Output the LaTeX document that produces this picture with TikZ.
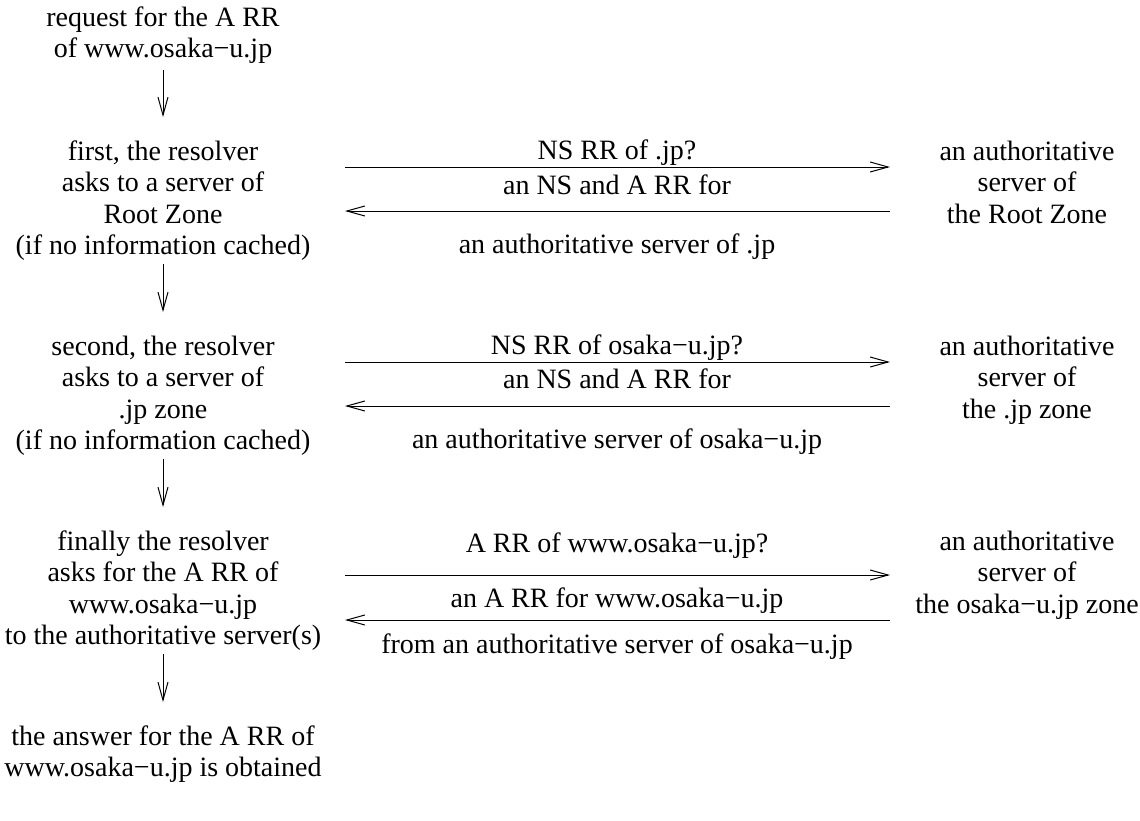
\documentclass[tikz,border=0pt]{standalone}
\usepackage{fontspec}
\setmainfont{Liberation Serif}
\usetikzlibrary{arrows.meta}
\newcommand\lst{\rule[-8pt]{0pt}{28pt}}
\begin{document}
\begin{tikzpicture}[x=1pt,y=-1pt,
  txt/.style={font=\fontsize{28}{31.5}\selectfont, inner sep=0pt, align=center},
  blk/.style={txt, anchor=north},
  lbl/.style={txt, anchor=base},
  arr/.style={line width=1pt, -{Straight Barb[length=18pt,width=10pt]}}]
\useasboundingbox (0,0) rectangle (1140,820);

% left column
\node[blk] (req) at (163,6) {\lst request for the A RR\\ \lst of www.osaka−u.jp};
\node[blk] (s1) at (163,140) {\lst first, the resolver\\ \lst asks to a server of\\ \lst Root Zone\\ \lst (if no information cached)};
\node[blk] (s2) at (163,335) {\lst second, the resolver\\ \lst asks to a server of\\ \lst .jp zone\\ \lst (if no information cached)};
\node[blk] (s3) at (163,530) {\lst finally the resolver\\ \lst asks for the A RR of\\ \lst www.osaka−u.jp\\ \lst to the authoritative server(s)};
\node[blk] (ans) at (163,725) {\lst the answer for the A RR of\\ \lst www.osaka−u.jp is obtained};

% right column
\node[blk] (r1) at (1027,140) {\lst an authoritative\\ \lst server of\\ \lst the Root Zone};
\node[blk] (r2) at (1027,335) {\lst an authoritative\\ \lst server of\\ \lst the .jp zone};
\node[blk] (r3) at (1027,530) {\lst an authoritative\\ \lst server of\\ \lst the osaka−u.jp zone};

% middle labels
\node[lbl] (q1) at (617,159) {NS RR of .jp?};
\node[lbl] (a1) at (617,194) {an NS and A RR for};
\node[lbl] (b1) at (617,253) {an authoritative server of .jp};
\node[lbl] (q2) at (617,354) {NS RR of osaka−u.jp?};
\node[lbl] (a2) at (617,388) {an NS and A RR for};
\node[lbl] (b2) at (617,448) {an authoritative server of osaka−u.jp};
\node[lbl] (q3) at (617,552) {A RR of www.osaka−u.jp?};
\node[lbl] (a3) at (617,607) {an A RR for www.osaka−u.jp};
\node[lbl] (b3) at (617,653) {from an authoritative server of osaka−u.jp};

% connector end points
\coordinate (v0a) at (163,70);  \coordinate (v0b) at (163,117);
\coordinate (v1a) at (163,264); \coordinate (v1b) at (163,312);
\coordinate (v2a) at (163,459); \coordinate (v2b) at (163,507);
\coordinate (v3a) at (163,654); \coordinate (v3b) at (163,702);

\coordinate (h1l) at (345,167); \coordinate (h1r) at (890,167);
\coordinate (k1l) at (345,211); \coordinate (k1r) at (890,211);
\coordinate (h2l) at (345,362); \coordinate (h2r) at (890,362);
\coordinate (k2l) at (345,406); \coordinate (k2r) at (890,406);
\coordinate (h3l) at (345,575); \coordinate (h3r) at (890,575);
\coordinate (k3l) at (345,620); \coordinate (k3r) at (890,620);

\draw[arr] (v0a) -- (v0b);
\draw[arr] (v1a) -- (v1b);
\draw[arr] (v2a) -- (v2b);
\draw[arr] (v3a) -- (v3b);

\draw[arr] (h1l) -- (h1r);
\draw[arr] (k1r) -- (k1l);
\draw[arr] (h2l) -- (h2r);
\draw[arr] (k2r) -- (k2l);
\draw[arr] (h3l) -- (h3r);
\draw[arr] (k3r) -- (k3l);
\end{tikzpicture}
\end{document}
